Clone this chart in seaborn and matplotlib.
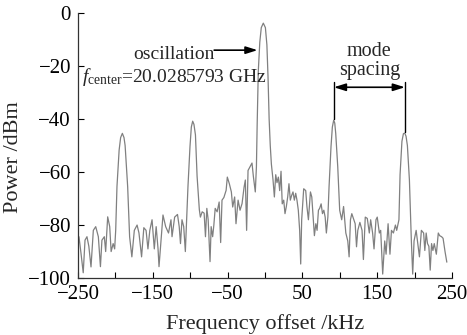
import matplotlib
matplotlib.use("Agg")
import matplotlib.pyplot as plt
import seaborn as sns
import pandas as pd
import numpy as np

# trace (offset kHz, power dBm)
freq_khz = [
    -248.7, -246, -243, -240.6, -238, -235.5, -232.6, -229.5, -226.3, -222.8,
    -220, -218, -214.8, -213, -210.3, -207.6, -205.7, -203, -201, -199.6,
    -197.9, -195, -193, -190.7, -188.5, -187, -183.6, -181, -178, -174.7,
    -171, -168.5, -165, -162, -159, -156.5, -154, -151, -148, -145.5,
    -143, -141.7, -139, -136.4, -132.8, -129, -125.7, -124.3, -120.8, -117,
    -114.7, -113, -111, -108.7, -106.5, -105, -103, -100.3, -98.5, -96.7,
    -95, -93, -90.8, -87.8, -86.4, -84, -81.4, -79.6, -77.8, -76,
    -73.5, -72, -70, -68.4, -66.6, -64, -61.3, -59.3, -57.5, -55,
    -52, -50.4, -47.7, -45, -43.2, -40.6, -38.8, -36, -33.4, -30.7,
    -28, -26.3, -24.6, -22.7, -20, -17.4, -15.6, -13, -11.5, -10.5,
    -9, -7, -5, -2.3, 0.5, 2.5, 4, 5.5, 7, 8.5,
    10.7, 12.5, 14.3, 16, 17.8, 19.6, 21.4, 23, 25, 26.7,
    28.5, 30.3, 32, 33.8, 35.6, 37.4, 39.2, 41, 42.7, 44.5,
    46.3, 47.7, 49, 51.7, 54.4, 56, 58, 60.7, 62.5, 64.3,
    66, 67.9, 69.6, 71.4, 73, 75, 76.8, 78.6, 80.4, 82,
    84, 85.6, 88.2, 90, 91.8, 93.2, 94.5, 97.2, 99.8, 102.5,
    105, 108, 110.6, 112.4, 114.2, 116, 118.7, 120.5, 122.3, 124,
    126.8, 129.7, 131.5, 134, 136.7, 139.4, 141.2, 143.8, 145.7, 148.3,
    150, 152.8, 154.6, 157.3, 160, 161.8, 164.5, 167, 169, 171.6,
    174.3, 176, 179, 180.5, 183, 185, 186.8, 188.5, 190.3, 193,
    195.6, 197.4, 199.2, 202, 204.6, 206.4, 209, 212, 213.6, 215.4,
    217.2, 219, 220.8, 222.6, 224.4, 226.2, 229, 231.6, 233.4, 236,
    238, 240.6, 243,
]
power_dbm = [
    -84.4, -90.6, -98, -85.7, -84.4, -88, -95.8, -82, -80.6, -84.4,
    -95.7, -85.7, -84.4, -90, -76.9, -80.6, -90, -87, -89, -82,
    -65.5, -51.7, -47, -45.4, -47, -50, -65.5, -84.4, -92, -82,
    -80, -83, -92, -81, -82, -89, -82, -78, -89, -80.6,
    -89, -95.7, -85.7, -76.2, -80.6, -83, -78, -84.4, -77, -76,
    -80.6, -87, -78, -80.6, -90, -79.5, -65.5, -50.4, -43, -40.8,
    -42, -46, -61.6, -74.2, -77, -75, -75.5, -84.4, -73.7, -78,
    -93.8, -80.6, -84.4, -80, -73.7, -75, -71.3, -86.6, -70.6, -69.6,
    -66.9, -61.9, -64.4, -67.5, -73.2, -69.4, -79.5, -70.6, -74.4, -71.9,
    -65.7, -63, -82, -59.4, -58, -56.6, -61.6, -67.5, -58, -42,
    -22, -11, -5.5, -3.8, -5.5, -12, -24, -40, -50, -57,
    -63, -69.4, -61, -64, -61.9, -67, -59.7, -72, -70.6, -75.7,
    -73, -69.4, -64.4, -70.6, -68.8, -67.5, -70.6, -68, -70.6, -74.4,
    -82, -94.7, -78, -66.3, -67, -73, -78, -67.5, -69.4, -77,
    -84, -79.5, -82, -74.4, -73.7, -72, -75.7, -74.4, -77, -83,
    -77, -65.5, -50.4, -43, -40.4, -41.5, -45.4, -58, -74.4, -78,
    -73, -83, -86, -92, -78, -75.7, -78, -79.5, -88.2, -82,
    -79, -82, -93, -77, -77.5, -83, -78, -83, -89, -78,
    -77, -83, -82, -98.5, -86, -91, -79.5, -91, -82, -83,
    -80, -82, -78, -61, -48.4, -45.5, -45.3, -46.5, -50, -63,
    -86, -98.5, -86, -82, -88, -92, -82, -83, -89.6, -83,
    -87, -88, -97, -87, -89.6, -87, -91, -83, -84, -84.4,
    -85, -90, -94,
]

x_ticks = [-250, -200, -150, -100, -50, 0, 50, 100, 150, 200, 250]
x_tick_labels = ["\u2212250", "", "\u2212150", "", "\u221250", "", "50", "", "150", "", "250"]
y_ticks = [-100, -80, -60, -40, -20, 0]

spacing_left = 92
spacing_right = 187

sns.set_style("ticks")
plt.rcParams["font.family"] = ["Liberation Serif", "DejaVu Serif"]
plt.rcParams["mathtext.fontset"] = "custom"
plt.rcParams["mathtext.rm"] = "Liberation Serif"
plt.rcParams["mathtext.it"] = "Liberation Serif:italic"

df = pd.DataFrame({"freq": freq_khz, "power": power_dbm})

fig = plt.figure(figsize=(4.67, 3.35), dpi=100)
ax = fig.add_axes([0.167, 0.170, 0.801, 0.791])

sns.lineplot(data=df, x="freq", y="power", ax=ax, color="#808080",
             linewidth=0.9, estimator=None, sort=False)

ax.set_xlim(-250, 250)
ax.set_ylim(-100, 0)
ax.set_xticks(x_ticks)
ax.set_xticklabels(x_tick_labels)
ax.set_yticks(y_ticks)
ax.tick_params(direction="in", length=4, width=0.8, labelsize=15, colors="black")
ax.tick_params(axis="x", pad=5)
ax.tick_params(axis="y", pad=5)
sns.despine(ax=ax)
for s in ["left", "bottom"]:
    ax.spines[s].set_color("#333333")
    ax.spines[s].set_linewidth(0.9)

ax.set_xlabel("Frequency offset /kHz", fontsize=16)
ax.set_ylabel("Power /dBm", fontsize=16)
ax.xaxis.set_label_coords(0.5, -0.135)
ax.yaxis.set_label_coords(-0.148, 0.455)

# annotations
ax.text(-67, -15.5, "oscillation", ha="right", va="center", fontsize=14)
ax.annotate("", xy=(-10, -14), xytext=(-68, -14),
            arrowprops=dict(arrowstyle="-|>,head_length=0.7,head_width=0.22",
                            color="black", lw=1.2, shrinkA=0, shrinkB=0))
ax.text(-245, -24, r"$f_{\rm center}$=20.0285793 GHz", ha="left", va="center", fontsize=14)

ax.plot([spacing_left, spacing_left], [-26, -40], color="black", lw=1.0)
ax.plot([spacing_right, spacing_right], [-26, -45], color="black", lw=1.0)
ax.annotate("", xy=(spacing_left, -28), xytext=(spacing_right, -28),
            arrowprops=dict(arrowstyle="<|-|>,head_length=0.7,head_width=0.22",
                            color="black", lw=1.2, shrinkA=0, shrinkB=0))
ax.text((spacing_left + spacing_right) / 2, -18, "mode\nspacing", ha="center",
        va="center", fontsize=14.5, linespacing=1.0)

fig.savefig("out.png", dpi=100)
